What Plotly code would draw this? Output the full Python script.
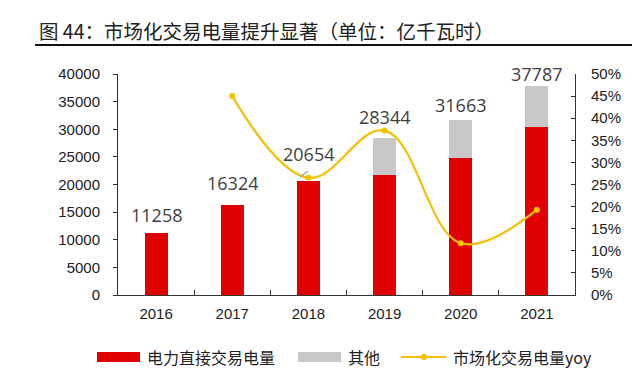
import plotly.graph_objects as go

years = ["2016", "2017", "2018", "2019", "2020", "2021"]
direct_trade = [11258, 16324, 20654, 21771, 24760, 30404]
other = [0, 0, 0, 6573, 6903, 7383]
totals = [11258, 16324, 20654, 28344, 31663, 37787]
yoy_years = ["2017", "2018", "2019", "2020", "2021"]
yoy = [0.450, 0.265, 0.372, 0.117, 0.193]
label_offsets = [18, 22, 27, 21, 15, 12]

RED = "#E00000"
GRAY = "#C8C8C8"
GOLD = "#F5C000"
TXT = "#222222"

fig = go.Figure()
fig.add_trace(go.Bar(x=years, y=direct_trade, name="电力直接交易电量", marker_color=RED,
                     width=0.3, showlegend=False))
fig.add_trace(go.Bar(x=years, y=other, name="其他", marker_color=GRAY,
                     width=0.3, showlegend=False))
fig.add_trace(go.Scatter(x=yoy_years, y=yoy, name="市场化交易电量yoy", yaxis="y2",
                         mode="lines+markers", line=dict(color=GOLD, width=2.2, shape="spline", smoothing=1.1),
                         marker=dict(color=GOLD, size=6), showlegend=False))

for i, (t, off) in enumerate(zip(totals, label_offsets)):
    fig.add_annotation(x=i, y=t, xref="x", yref="y", text=str(t), showarrow=False, yanchor="middle",
                       yshift=off, font=dict(family="Open Sans, Noto Sans", size=18, color="#404040"))

# window pixel -> paper coordinates (plot area spans x 118..575, y 74..295 in the window)
def px(xp):
    return (xp - 118) / 457

def py(yp):
    return (295 - yp) / 221

# small leader line of the 2018 label
fig.add_shape(type="line", xref="paper", yref="paper", x0=px(300), x1=px(308), y0=py(177), y1=py(171),
              line=dict(color="#A0A0A0", width=1.2))

# title
fig.add_annotation(xref="paper", yref="paper", x=px(37), y=py(30), xanchor="left", yanchor="middle",
                   text="图 44：市场化交易电量提升显著（单位：亿千瓦时）", showarrow=False,
                   font=dict(family="Noto Sans CJK SC", size=19.5, color=TXT))
fig.add_shape(type="line", xref="paper", yref="paper", x0=px(35), x1=px(636), y0=py(45), y1=py(45),
              line=dict(color="#111111", width=2))

# legend (manual)
ly = py(357)
fig.add_shape(type="rect", xref="paper", yref="paper", x0=px(97), x1=px(140), y0=py(362), y1=py(352),
              fillcolor=RED, line=dict(width=0))
fig.add_annotation(xref="paper", yref="paper", x=px(145), y=ly, xanchor="left", yanchor="middle",
                   text="电力直接交易电量", showarrow=False,
                   font=dict(family="Noto Sans CJK SC", size=16, color=TXT))
fig.add_shape(type="rect", xref="paper", yref="paper", x0=px(298), x1=px(341), y0=py(362), y1=py(352),
              fillcolor=GRAY, line=dict(width=0))
fig.add_annotation(xref="paper", yref="paper", x=px(346), y=ly, xanchor="left", yanchor="middle",
                   text="其他", showarrow=False,
                   font=dict(family="Noto Sans CJK SC", size=16, color=TXT))
fig.add_shape(type="line", xref="paper", yref="paper", x0=px(401), x1=px(446), y0=ly, y1=ly,
              line=dict(color=GOLD, width=2))
fig.add_shape(type="circle", xref="paper", yref="paper", x0=px(421), x1=px(427), y0=py(360), y1=py(354),
              fillcolor=GOLD, line=dict(width=0))
fig.add_annotation(xref="paper", yref="paper", x=px(451), y=ly, xanchor="left", yanchor="middle",
                   text="市场化交易电量yoy", showarrow=False,
                   font=dict(family="Noto Sans CJK SC", size=16, color=TXT))

axis_font = dict(family="Liberation Sans, Arial", size=15, color=TXT)
# page body has an 8px margin, so the figure is 624x371 and offset by 8px
fig.update_layout(
    template="none",
    width=624, height=371,
    margin=dict(l=110, r=57, t=66, b=84),
    paper_bgcolor="white", plot_bgcolor="white",
    barmode="stack",
    xaxis=dict(type="category", range=[-0.5, 5.5], showline=True, linecolor="#333333", linewidth=1,
               ticks="inside", tickson="boundaries", ticklen=5, tickcolor="#333333",
               tickfont=axis_font, ticklabelstandoff=5, showgrid=False, automargin=False, zeroline=False),
    yaxis=dict(range=[0, 40000], dtick=5000, tickformat="d", showline=True, linecolor="#333333", linewidth=1,
               ticks="outside", ticklen=4, tickcolor="#333333", tickfont=axis_font,
               ticklabelstandoff=10, showgrid=False, zeroline=False, automargin=False),
    yaxis2=dict(range=[0, 0.5], dtick=0.05, tickformat=".0%", overlaying="y", side="right",
                showline=True, linecolor="#333333", linewidth=1, ticks="inside", ticklen=4,
                tickcolor="#333333", tickfont=axis_font, ticklabelstandoff=12,
                showgrid=False, zeroline=False, automargin=False),
)

fig.write_html("out.html")
